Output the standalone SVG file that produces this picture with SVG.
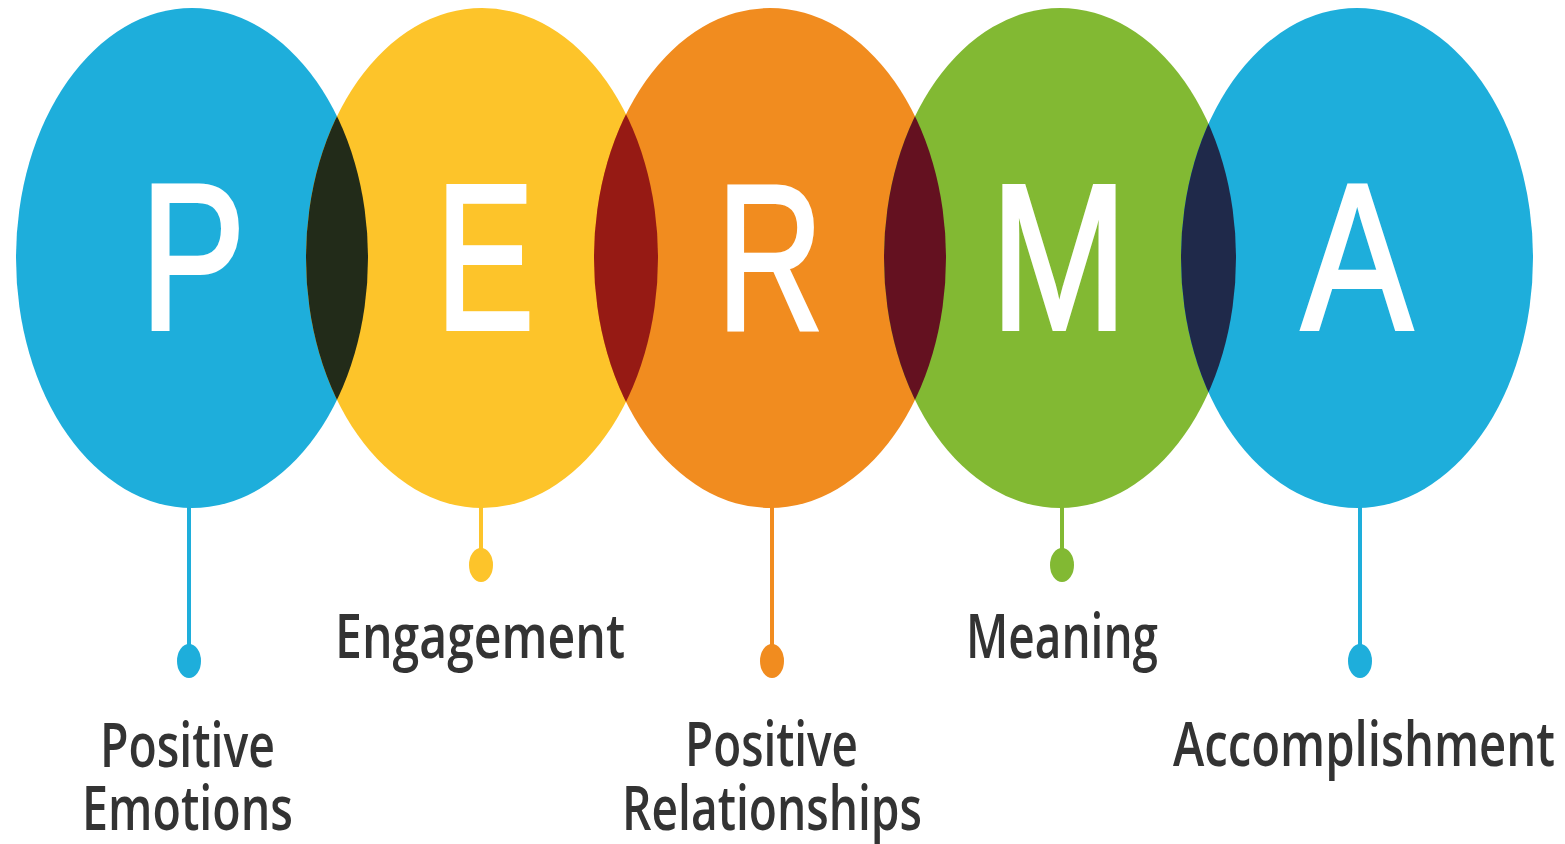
<svg xmlns="http://www.w3.org/2000/svg" width="1565" height="844" viewBox="0 0 1565 844">
<style>
.big{font-family:"Liberation Sans",Arial,sans-serif;font-size:208px;fill:#fff;stroke:#fff;stroke-width:4px;text-anchor:middle}
.lbl{font-family:"Open Sans","Liberation Sans",sans-serif;font-weight:600;font-size:62px;fill:#333333}
.stem{stroke-width:4;fill:none}
</style>
<defs>
<clipPath id="c1"><ellipse cx="192" cy="258" rx="176" ry="250"/></clipPath>
<clipPath id="c2"><ellipse cx="482" cy="258" rx="176" ry="250"/></clipPath>
<clipPath id="c3"><ellipse cx="770" cy="258" rx="176" ry="250"/></clipPath>
<clipPath id="c4"><ellipse cx="1060" cy="258" rx="176" ry="250"/></clipPath>
</defs>
<rect width="1565" height="844" fill="#fff"/>
<g id="connectors">
<line class="stem" stroke="#1eaedb" x1="189" y1="500" x2="189" y2="655"/>
<ellipse cx="189" cy="661" rx="12" ry="17" fill="#1eaedb"/>
<line class="stem" stroke="#fdc42a" x1="481" y1="500" x2="481" y2="555"/>
<ellipse cx="481" cy="565" rx="12" ry="17" fill="#fdc42a"/>
<line class="stem" stroke="#f18c1f" x1="772" y1="500" x2="772" y2="655"/>
<ellipse cx="772" cy="661" rx="12" ry="17" fill="#f18c1f"/>
<line class="stem" stroke="#82b933" x1="1062" y1="500" x2="1062" y2="555"/>
<ellipse cx="1062" cy="565" rx="12" ry="17" fill="#82b933"/>
<line class="stem" stroke="#1eaedb" x1="1360" y1="500" x2="1360" y2="655"/>
<ellipse cx="1360" cy="661" rx="12" ry="17" fill="#1eaedb"/>
</g>
<g id="node-p"><ellipse cx="192" cy="258" rx="176" ry="250" fill="#1eaedb"/></g>
<g id="node-e"><ellipse cx="482" cy="258" rx="176" ry="250" fill="#fdc42a"/></g>
<g id="node-r"><ellipse cx="770" cy="258" rx="176" ry="250" fill="#f18c1f"/></g>
<g id="node-m"><ellipse cx="1060" cy="258" rx="176" ry="250" fill="#82b933"/></g>
<g id="node-a"><ellipse cx="1357" cy="258" rx="176" ry="250" fill="#1eaedb"/></g>
<g id="overlaps">
<ellipse cx="482" cy="258" rx="176" ry="250" fill="#222b19" clip-path="url(#c1)"/>
<ellipse cx="770" cy="258" rx="176" ry="250" fill="#961a14" clip-path="url(#c2)"/>
<ellipse cx="1060" cy="258" rx="176" ry="250" fill="#641120" clip-path="url(#c3)"/>
<ellipse cx="1357" cy="258" rx="176" ry="250" fill="#1f294a" clip-path="url(#c4)"/>
</g>
<g id="letters">
<text class="big" transform="translate(193,329) scale(0.76,1)">P</text>
<text class="big" transform="translate(485,329) scale(0.71,1)">E</text>
<text class="big" transform="translate(770,329) scale(0.71,1)">R</text>
<text class="big" transform="translate(1059,329) scale(0.79,1)">M</text>
<text class="big" transform="translate(1357,329) scale(0.8,1)">A</text>
</g>
<g id="labels">
<text class="lbl" x="100" y="767" textLength="175" lengthAdjust="spacingAndGlyphs">Positive</text>
<text class="lbl" x="82" y="830" textLength="211" lengthAdjust="spacingAndGlyphs">Emotions</text>
<text class="lbl" x="335" y="658" textLength="290" lengthAdjust="spacingAndGlyphs">Engagement</text>
<text class="lbl" x="685" y="766" textLength="173" lengthAdjust="spacingAndGlyphs">Positive</text>
<text class="lbl" x="622" y="830" textLength="300" lengthAdjust="spacingAndGlyphs">Relationships</text>
<text class="lbl" x="966" y="658" textLength="192" lengthAdjust="spacingAndGlyphs">Meaning</text>
<text class="lbl" x="1173" y="766" textLength="382" lengthAdjust="spacingAndGlyphs">Accomplishment</text>
</g>
</svg>
